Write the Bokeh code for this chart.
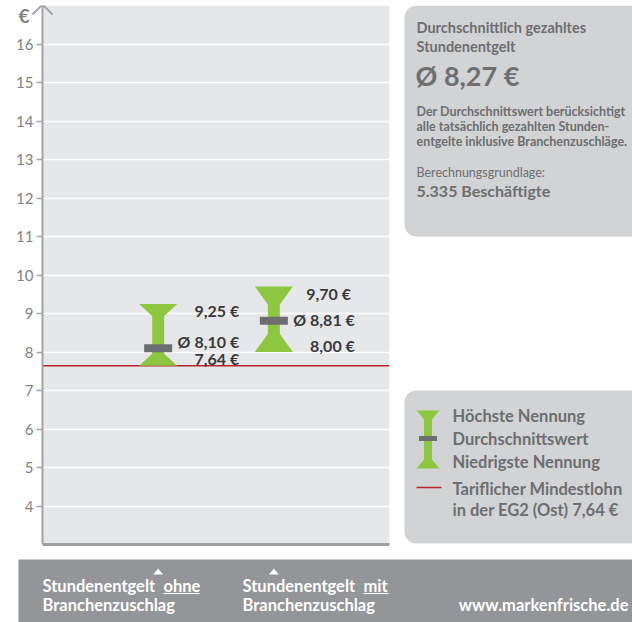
from bokeh.plotting import figure
from bokeh.models import Range1d, FixedTicker, Label, BoxAnnotation, Arrow
from bokeh.layouts import column, row
from bokeh.embed import file_html
from bokeh.resources import INLINE
from bokeh.core.properties import value

# ---------------- data ----------------
CATEGORY_LINE1 = ["Stundenentgelt", "Stundenentgelt"]
CATEGORY_EMPH = ["ohne", "mit"]
CATEGORY_LINE2 = ["Branchenzuschlag", "Branchenzuschlag"]
X_POS = [1, 2]
HIGH = [9.25, 9.70]
MEAN = [8.10, 8.81]
LOW = [7.64, 8.00]
HIGH_LABELS = ["9,25 €", "9,70  €"]
MEAN_LABELS = ["Ø 8,10 €", "Ø 8,81 €"]
LOW_LABELS = ["7,64 €", "8,00 €"]
MIN_WAGE = 7.64
Y_TICKS = list(range(4, 17))
Y_MIN, Y_MAX = 3, 17
X_MIN, X_MAX = 0, 3
UNIT = "€"
INFO_TITLE = ["Durchschnittlich gezahltes", "Stundenentgelt"]
INFO_VALUE = "Ø 8,27 €"
INFO_NOTE = ["Der Durchschnittswert berücksichtigt",
             "alle tatsächlich gezahlten Stunden-",
             "entgelte inklusive Branchenzuschläge."]
INFO_BASIS = "Berechnungsgrundlage:"
INFO_COUNT = "5.335 Beschäftigte"
LEGEND_ITEMS = ["Höchste Nennung", "Durchschnittswert", "Niedrigste Nennung"]
LEGEND_WAGE = ["Tariflicher Mindestlohn", "in der EG2 (Ost) 7,64 €"]
SOURCE = "www.markenfrische.de"

# ---------------- style ----------------
FONT_NAME = "Lato"
FONT = value(FONT_NAME)
GREEN = "#8dc63f"
MEANC = "#6d6e71"
RED = "#b5272d"
BG = "#e6e7e8"
AXIS = "#a3a5a8"
TICKTXT = "#808285"
BOX = "#d1d3d4"
BOXTXT = "#6d6e71"
BAND = "#939598"
VALTXT = "#3a3a3c"

TOTAL_W, TOTAL_H = 632, 622
MW, MH = 396, 553
PAD = 42                      # white strip inside the frame, left of the y axis
FL, FR, FT, FB = 0, 7, 5, 9
fw = MW - FL - FR - PAD       # width of the grey plot area
fh = MH - FT - FB
PXX = fw / (X_MAX - X_MIN)
PXY = fh / (Y_MAX - Y_MIN)

# ---------------- main chart ----------------
p = figure(width=MW, height=MH, x_range=Range1d(X_MIN - PAD / PXX, X_MAX),
           y_range=Range1d(Y_MIN, Y_MAX),
           min_border_left=FL, min_border_right=FR, min_border_top=FT, min_border_bottom=FB,
           output_backend="svg", toolbar_location=None)
p.background_fill_color = "white"
p.border_fill_color = "white"
p.outline_line_color = None
p.quad(left=X_MIN, right=X_MAX, bottom=Y_MIN, top=Y_MAX, fill_color=BG, line_color=None,
       level="image")
p.xgrid.visible = False
p.ygrid.ticker = FixedTicker(ticks=Y_TICKS)
p.ygrid.grid_line_color = "white"
p.ygrid.grid_line_width = 1.5

ya = p.yaxis[0]
ya.fixed_location = X_MIN
ya.ticker = FixedTicker(ticks=Y_TICKS)
ya.axis_line_color = AXIS
ya.axis_line_width = 2
ya.major_tick_line_color = AXIS
ya.major_tick_line_width = 1.5
ya.major_tick_out = 6
ya.major_tick_in = 0
ya.minor_tick_line_color = None
ya.major_label_text_font = FONT_NAME
ya.major_label_text_font_size = "15px"
ya.major_label_text_color = TICKTXT
ya.major_label_standoff = 3

xa = p.xaxis[0]
xa.bounds = (X_MIN, X_MAX)
xa.ticker = FixedTicker(ticks=[])
xa.major_label_text_font_size = "0px"
xa.major_tick_out = 0
xa.major_tick_in = 0
xa.major_label_standoff = 0
xa.minor_tick_line_color = None
xa.major_tick_line_color = None
xa.axis_line_color = "#9d9fa2"
xa.axis_line_width = 3

# axis arrow head and unit
for sgn in (-1, 1):
    p.add_layout(Arrow(end=None, x_start=X_MIN, y_start=Y_MAX + 1 / PXY,
                       x_end=X_MIN + sgn * 10 / PXX, y_end=Y_MAX - 9 / PXY,
                       line_color=AXIS, line_width=2, level="overlay"))
p.add_layout(Label(x=X_MIN - 24 / PXX, y=Y_MAX - 10 / PXY, text=UNIT, text_baseline="middle",
                   text_align="left", text_font=FONT_NAME, text_font_style="bold",
                   text_font_size="19px", text_color=TICKTXT))

# minimum wage line
p.line([X_MIN, X_MAX], [MIN_WAGE, MIN_WAGE], line_color=RED, line_width=1.5)

# I-beam range marks
WO = 19 / PXX
WS = 6 / PXX
FLARE = [12 / PXY, 18 / PXY]
xs, ys = [], []
for xc, lo, hi, f in zip(X_POS, LOW, HIGH, FLARE):
    xs.append([xc - WO, xc + WO, xc + WS, xc + WS, xc + WO, xc - WO, xc - WS, xc - WS])
    ys.append([hi, hi, hi - f, lo + f, lo, lo, lo + f, hi - f])
p.patches(xs, ys, fill_color=GREEN, line_color=None)
p.rect(x=X_POS, y=MEAN, width=28, height=8, width_units="screen", height_units="screen",
       fill_color=MEANC, line_color=None)

lab = dict(text_align="right", text_baseline="middle", text_font=FONT, text_font_style="bold",
           text_font_size="16px", text_color=VALTXT, x_offset=81)
p.text(x=X_POS, y=HIGH, text=HIGH_LABELS, y_offset=7, **lab)
p.text(x=X_POS, y=MEAN, text=MEAN_LABELS, y_offset=[-7, -1], **lab)
p.text(x=X_POS, y=LOW, text=LOW_LABELS, y_offset=-7, **lab)

# ---------------- side panel ----------------
SW = TOTAL_W - MW


def blank(w, h, y0=0, y1=None):
    f = figure(width=w, height=h, x_range=Range1d(0, w), y_range=Range1d(y0, h if y1 is None else y1),
               x_axis_type=None, y_axis_type=None, min_border=0,
               output_backend="svg", toolbar_location=None)
    f.outline_line_color = None
    f.background_fill_color = "white"
    f.border_fill_color = "white"
    return f


# local coordinates: x = ref_x - 396, y = 553 - ref_y (frame is aligned with the chart's frame)
s = blank(SW, MH, FB, MH - FT)
s.add_layout(BoxAnnotation(left=8, right=SW + 30, top=548, bottom=317, fill_color=BOX,
                           fill_alpha=1, line_color=None, border_radius=12, level="underlay"))
s.add_layout(BoxAnnotation(left=8, right=SW + 30, top=163, bottom=10, fill_color=BOX,
                           fill_alpha=1, line_color=None, border_radius=12, level="underlay"))


def slabel(fig, x, y, t, size, bold=True, color=BOXTXT, align="left"):
    fig.add_layout(Label(x=x, y=y, text=t, text_baseline="middle", text_align=align,
                         text_font=FONT_NAME, text_font_style="bold" if bold else "normal",
                         text_font_size=size, text_color=color))


slabel(s, 20, 526, INFO_TITLE[0], "14.5px")
slabel(s, 20, 507, INFO_TITLE[1], "14.5px")
slabel(s, 19, 478, INFO_VALUE, "27px")
for i, t in enumerate(INFO_NOTE):
    slabel(s, 20, 442 - 15 * i, t, "12.5px")
slabel(s, 20, 381, INFO_BASIS, "12.5px", bold=False)
slabel(s, 20, 363, INFO_COUNT, "16px")

# legend icon
cx, top, bot = 31.5, 143, 85
wo, ws, fl = 11.5, 4, 9
s.patch([cx - wo, cx + wo, cx + ws, cx + ws, cx + wo, cx - wo, cx - ws, cx - ws],
        [top, top, top - fl, bot + fl, bot, bot, bot + fl, top - fl],
        fill_color=GREEN, line_color=None)
s.quad(left=cx - 9, right=cx + 9, bottom=112.5, top=117.5, fill_color=MEANC, line_color=None)
s.line([20, 45], [66, 66], line_color=RED, line_width=1.5)
for i, t in enumerate(LEGEND_ITEMS):
    slabel(s, 56, 138 - 23 * i, t, "16.5px")
slabel(s, 56, 65, LEGEND_WAGE[0], "16.5px")
slabel(s, 56, 44, LEGEND_WAGE[1], "16.5px")

# ---------------- bottom band ----------------
BH = TOTAL_H - MH
b = blank(TOTAL_W, BH)
# local: x = ref_x, y = 622 - ref_y
b.add_layout(BoxAnnotation(left=18, right=TOTAL_W + 30, top=63, bottom=-20, fill_color=BAND,
                           fill_alpha=1, line_color=None, level="underlay"))
tx, ty = [], []
for xv in X_POS:
    cxp = FL + PAD + (xv - X_MIN) * PXX
    tx.append([cxp - 5, cxp + 5, cxp])
    ty.append([48, 48, 54])
b.patches(tx, ty, fill_color="white", line_color=None)

CAT_X = [42, 242]
EMPH_X = [163, 363]
EMPH_W = [36, 25]
for x0, ex, ew, l1, em, l2 in zip(CAT_X, EMPH_X, EMPH_W, CATEGORY_LINE1, CATEGORY_EMPH, CATEGORY_LINE2):
    slabel(b, x0, 37, l1, "16.5px", color="white")
    slabel(b, ex, 37, em, "16.5px", color="white")
    slabel(b, x0, 18, l2, "16.5px", color="white")
    b.line([ex, ex + ew], [29, 29], line_color="white", line_width=1.2)
slabel(b, 628, 18, SOURCE, "16.5px", color="white", align="right")

layout = column(row(p, s), b)
open("out.html", "w").write(file_html(layout, INLINE))
